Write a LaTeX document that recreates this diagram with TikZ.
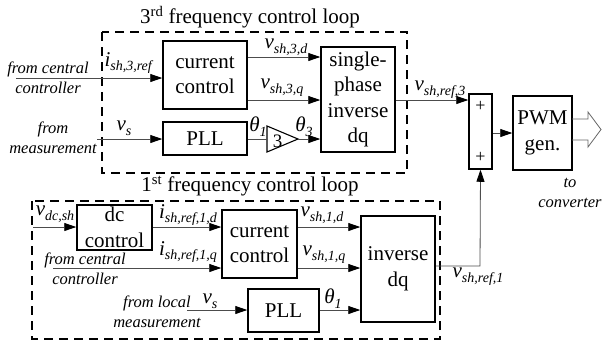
\documentclass[tikz,border=0pt]{standalone}
\usepackage{fontspec}
\setmainfont{Liberation Serif}
\usetikzlibrary{arrows.meta}
\newcommand\sig[2]{{\fontsize{21}{22}\selectfont\textit{#1}\raisebox{-0.5ex}{\fontsize{14}{14}\selectfont\textit{#2}}}}
\begin{document}
\begin{tikzpicture}[x=1pt,y=-1pt,
 box/.style={draw,line width=1.5pt,inner sep=0pt,align=center,font=\fontsize{21}{25.5}\selectfont},
 loopbox/.style={draw,line width=1.7pt,dash pattern=on 9pt off 6pt},
 arr/.style={draw=black!70,line width=0.8pt,-{Triangle[length=12pt,width=8pt,color=black]}},
 ln/.style={draw=black!70,line width=0.8pt},
 note/.style={font=\fontsize{16.5}{20}\selectfont\itshape,align=center,inner sep=0pt},
 lab/.style={inner sep=0pt},
 title/.style={font=\fontsize{21}{22}\selectfont,inner sep=0pt}]
\useasboundingbox (0,0) rectangle (602,341);

% dashed loops
\draw[loopbox] (102,32) rectangle (407,173);
\draw[loopbox] (32,201) rectangle (440,339);
\node[title] (t3) at (250,17) {3\textsuperscript{rd} frequency control loop};
\node[title] (t1) at (250,186) {1\textsuperscript{st} frequency control loop};

% level coordinates
\coordinate (y57) at (0,57);
\coordinate (y78) at (0,78);
\coordinate (y100) at (0,100);
\coordinate (y139) at (0,139);
\coordinate (y227) at (0,227);
\coordinate (y268) at (0,268);
\coordinate (y266) at (0,266);
\coordinate (y310) at (0,310);

% top loop blocks
\node[box,minimum width=84pt,minimum height=68pt] (cc3) at (205,75) {current\\control};
\node[box,minimum width=84pt,minimum height=33pt] (pll3) at (205,138.5) {PLL};
\node[box,minimum width=74pt,minimum height=105pt] (inv3) at (358,99.5) {single-\\phase\\inverse\\dq};
\coordinate (gin) at (267,139);
\coordinate (gout) at (298,139);
\draw[line width=1.1pt] (267,126) -- (gout) -- (267,152) -- cycle;
\node[inner sep=0pt,font=\fontsize{19}{20}\selectfont] (g3) at (277.5,141) {3};

% sum and PWM
\node[box,minimum width=23pt,minimum height=75pt] (sum) at (480.5,131.5) {};
\node[inner sep=0pt,font=\fontsize{18}{18}\selectfont] (p1) at (480.5,106) {+};
\node[inner sep=0pt,font=\fontsize{18}{18}\selectfont] (p2) at (480.5,157) {+};
\node[box,minimum width=59pt,minimum height=74pt] (pwm) at (542.5,133) {PWM\\gen.};

% bottom loop blocks
\node[box,minimum width=75pt,minimum height=45pt] (dc) at (114.5,227.5) {dc\\control};
\node[box,minimum width=75pt,minimum height=68pt] (cc1) at (259.5,244) {current\\control};
\node[box,minimum width=74pt,minimum height=106pt] (inv1) at (398,269) {inverse\\dq};
\node[box,minimum width=71pt,minimum height=43pt] (pll1) at (283.5,310.5) {PLL};

% free ends
\coordinate (in3ref) at (16,78);
\coordinate (in3vs) at (97,139);
\coordinate (in1dc) at (33,227);
\coordinate (in1q) at (53,268);
\coordinate (in1vs) at (187,310);
\coordinate (corner) at (480,266);

% top connectors
\draw[arr] (in3ref) -- (cc3.west |- y78);
\draw[arr] (in3vs) -- (pll3.west |- y139);
\draw[arr] (cc3.east |- y57) -- (inv3.west |- y57);
\draw[arr] (cc3.east |- y100) -- (inv3.west |- y100);
\draw[ln] (pll3.east |- y139) -- (gin);
\draw[arr] (gout) -- (inv3.west |- y139);
\draw[arr] (inv3.east |- y100) -- (sum.west |- y100);
\draw[arr] (sum.east |- pwm.west) -- (pwm.west);
\draw[draw=black!60,line width=0.8pt] (572,119) -- (588,119) -- (588,112) -- (601,129.5) -- (588,147) -- (588,140) -- (572,140);

% bottom connectors
\draw[arr] (in1dc) -- (dc.west |- y227);
\draw[arr] (dc.east |- y227) -- (cc1.west |- y227);
\draw[arr] (in1q) -- (cc1.west |- y268);
\draw[arr] (cc1.east |- y227) -- (inv1.west |- y227);
\draw[arr] (cc1.east |- y268) -- (inv1.west |- y268);
\draw[arr] (in1vs) -- (pll1.west |- y310);
\draw[arr] (pll1.east |- y310) -- (inv1.west |- y310);
\draw[arr] (inv1.east |- y266) -- (corner) -- (sum.south);

% labels top
\node[note] (fc3) at (48,78) {from central\\controller};
\node[note] (fm3) at (53,138) {from\\measurement};
\node[lab] (li3) at (129,63) {\sig{i}{sh,3,ref}};
\node[lab] (lvs3) at (124,128) {\sig{v}{s}};
\node[lab] (lvd3) at (286,47) {\sig{v}{sh,3,d}};
\node[lab] (lvq3) at (282,88) {\sig{v}{sh,3,q}};
\node[lab] (lt1) at (258,127) {\sig{θ}{1}};
\node[lab] (lt3) at (304,127) {\sig{θ}{3}};
\node[lab] (lvr3) at (440,90) {\sig{v}{sh,ref,3}};
\node[note] (tc) at (570,193) {to\\converter};

% labels bottom
\node[lab] (lvdc) at (55,214) {\sig{v}{dc,sh}};
\node[lab] (lid1) at (188,215) {\sig{i}{sh,ref,1,d}};
\node[lab] (liq1) at (188,252) {\sig{i}{sh,ref,1,q}};
\node[note] (fc1) at (85,269) {from central\\controller};
\node[lab] (lvd1) at (322,215) {\sig{v}{sh,1,d}};
\node[lab] (lvq1) at (324,255) {\sig{v}{sh,1,q}};
\node[note] (fl1) at (157,312) {from local\\measurement};
\node[lab] (lvs1) at (210,301) {\sig{v}{s}};
\node[lab] (lt11) at (333,299) {\sig{θ}{1}};
\node[lab] (lvr1) at (478,277) {\sig{v}{sh,ref,1}};
\end{tikzpicture}
\end{document}
